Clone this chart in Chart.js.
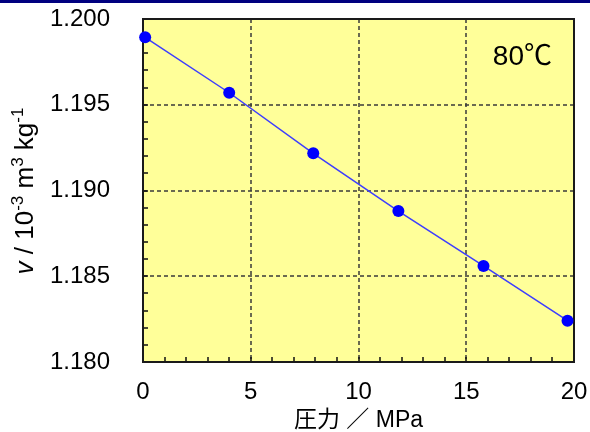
<!DOCTYPE html>
<html>
<head>
<meta charset="utf-8">
<script src="https://cdn.jsdelivr.net/npm/chart.js@4.4.1/dist/chart.umd.min.js"></script>
<style>
  body { margin: 0; background: #fff; }
  #wrap { position: relative; width: 590px; height: 432px; }
  #band { position: absolute; left: 0; top: 0; width: 590px; height: 3px; background: #00007f; }
</style>
</head>
<body>
<div id="wrap">
  <canvas id="grafico" width="590" height="432"></canvas>
  <div id="band"></div>
</div>
<script>
// specific volume vs pressure at 80 C
const pressure = [0.1, 4.0, 7.9, 11.85, 15.8, 19.7];        // MPa
const volume = [1.19893, 1.19570, 1.19217, 1.18880, 1.18560, 1.18241]; // 10^-3 m3/kg
const xTicks = [0, 5, 10, 15, 20];
const yTicks = [1.180, 1.185, 1.190, 1.195, 1.200];
const tempLabel = "80℃";
const xTitle = "圧力 ／ MPa";

const FONT = '"Liberation Sans", Arial, "Noto Sans CJK JP", sans-serif';

// background, dashed grid, frame and inward ticks
const frame = {
    id: "frame",
    beforeDatasetsDraw(chart) {
        const { ctx, chartArea: a, scales: { x, y } } = chart;
        ctx.save();
        ctx.fillStyle = "#ffff99";
        ctx.fillRect(a.left, a.top, a.right - a.left, a.bottom - a.top);

        ctx.strokeStyle = "#3a3a3a";
        ctx.lineWidth = 1.5;
        ctx.setLineDash([4, 3]);
        ctx.beginPath();
        xTicks.slice(1, -1).forEach(v => {
            const px = Math.round(x.getPixelForValue(v));
            ctx.moveTo(px, a.top);
            ctx.lineTo(px, a.bottom);
        });
        yTicks.slice(1, -1).forEach(v => {
            const py = Math.round(y.getPixelForValue(v));
            ctx.moveTo(a.left, py);
            ctx.lineTo(a.right, py);
        });
        ctx.stroke();
        ctx.setLineDash([]);

        // minor ticks, pointing inside
        ctx.strokeStyle = "#111";
        ctx.lineWidth = 1.5;
        ctx.beginPath();
        for (let v = 0; v <= 20; v++) {
            const px = Math.round(x.getPixelForValue(v));
            ctx.moveTo(px, a.bottom);
            ctx.lineTo(px, a.bottom - 5);
        }
        for (let i = 0; i <= 20; i++) {
            const py = Math.round(y.getPixelForValue(1.18 + i * 0.001));
            ctx.moveTo(a.left, py);
            ctx.lineTo(a.left + 5, py);
        }
        ctx.stroke();

        ctx.strokeStyle = "#1a1a1a";
        ctx.lineWidth = 2;
        ctx.strokeRect(a.left, a.top, a.right - a.left, a.bottom - a.top);
        ctx.restore();
    },
    afterDraw(chart) {
        const { ctx, chartArea: a } = chart;
        ctx.save();
        ctx.fillStyle = "#000";

        // temperature label
        ctx.font = "28px " + FONT;
        ctx.textAlign = "right";
        ctx.textBaseline = "alphabetic";
        ctx.fillText(tempLabel, a.right - 22, 65);

        // x title
        ctx.font = "23px " + FONT;
        ctx.textAlign = "center";
        ctx.fillText(xTitle, (a.left + a.right) / 2, 427);

        // y title with italic v and superscripts
        const parts = [
            { t: "v", f: "italic 26px " + FONT, dy: 0 },
            { t: " / 10", f: "26px " + FONT, dy: 0 },
            { t: "-3", f: "17px " + FONT, dy: -10 },
            { t: " m", f: "26px " + FONT, dy: 0 },
            { t: "3", f: "17px " + FONT, dy: -10 },
            { t: " kg", f: "26px " + FONT, dy: 0 },
            { t: "-1", f: "17px " + FONT, dy: -10 }
        ];
        let total = 0;
        parts.forEach(p => { ctx.font = p.f; p.w = ctx.measureText(p.t).width; total += p.w; });
        ctx.translate(33, 191);
        ctx.rotate(-Math.PI / 2);
        ctx.textAlign = "left";
        let cx = -total / 2;
        parts.forEach(p => {
            ctx.font = p.f;
            ctx.fillText(p.t, cx, p.dy);
            cx += p.w;
        });
        ctx.restore();
    }
};

const ctx = document.getElementById("grafico");

new Chart(ctx, {
    type: "scatter",
    data: {
        datasets: [{
            data: pressure.map((p, i) => ({ x: p, y: volume[i] })),
            showLine: true,
            borderColor: "#3d3dff",
            borderWidth: 1.5,
            backgroundColor: "#0000ff",
            pointBackgroundColor: "#0000ff",
            pointBorderWidth: 0,
            pointRadius: 6,
            clip: false
        }]
    },
    options: {
        responsive: false,
        animation: false,
        devicePixelRatio: 1,
        layout: {
            padding: { left: 0, top: 19, right: 16, bottom: 0 }
        },
        plugins: {
            legend: { display: false },
            tooltip: { enabled: false }
        },
        scales: {
            x: {
                type: "linear",
                min: 0,
                max: 20,
                afterFit: s => {
                    s.height = 70;
                    s.paddingLeft = 0;
                    s.paddingRight = 0;
                },
                afterBuildTicks: s => { s.ticks = xTicks.map(v => ({ value: v })); },
                ticks: {
                    color: "#000",
                    font: { family: FONT, size: 24 },
                    padding: 16,
                    maxRotation: 0,
                    callback: v => String(v)
                },
                grid: { display: false, drawTicks: false },
                border: { display: false }
            },
            y: {
                min: 1.18,
                max: 1.2,
                afterFit: s => {
                    s.width = 143;
                    s.paddingTop = 0;
                    s.paddingBottom = 0;
                },
                afterBuildTicks: s => { s.ticks = yTicks.map(v => ({ value: v })); },
                ticks: {
                    color: "#000",
                    font: { family: FONT, size: 24 },
                    padding: 33,
                    callback: v => v.toFixed(3)
                },
                grid: { display: false, drawTicks: false },
                border: { display: false }
            }
        }
    },
    plugins: [frame]
});
</script>
</body>
</html>
